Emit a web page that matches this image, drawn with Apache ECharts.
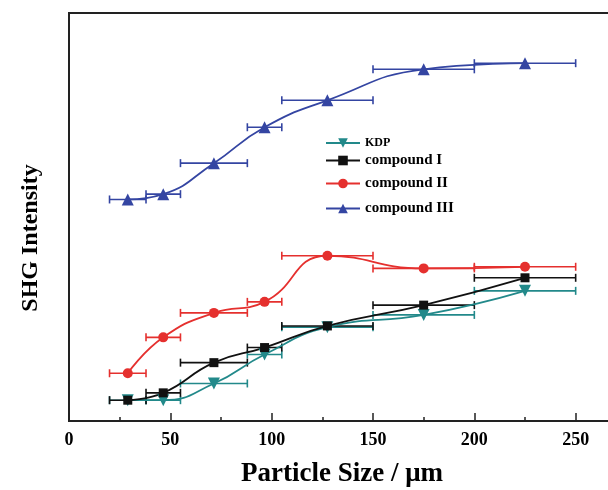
<!DOCTYPE html>
<html>
<head>
<meta charset="utf-8">
<script src="https://cdn.jsdelivr.net/npm/echarts@6/dist/echarts.min.js"></script>
<style>
  html, body { margin: 0; padding: 0; background: #fff; }
  #chart { width: 608px; height: 490px; }
</style>
</head>
<body>
<div id="chart"></div>
<script>
// Particle size classes (µm): centre and sieve range
const particleSize = [29, 46.5, 71.5, 96.5, 127.5, 175, 225];
const sizeLow = [20, 38, 55, 88, 105, 150, 200];
const sizeHigh = [38, 55, 88, 105, 150, 200, 250];

// SHG intensity (arbitrary units)
const kdp = [5.1, 5.1, 9.2, 16.3, 23.0, 26.0, 31.9];
const compoundI = [5.1, 6.9, 14.3, 18.0, 23.3, 28.4, 35.1];
const compoundII = [11.7, 20.5, 26.5, 29.2, 40.5, 37.4, 37.8];
const compoundIII = [54.3, 55.6, 63.2, 72.0, 78.6, 86.2, 87.7];

const xTicks = [0, 50, 100, 150, 200, 250];

const serif = '"Liberation Serif", "DejaVu Serif", serif';

const seriesDefs = [
  { name: 'KDP', values: kdp, color: '#22898a', symbol: 'triangle', rotate: 180, size: 12 },
  { name: 'compound I', values: compoundI, color: '#111111', symbol: 'rect', rotate: 0, size: 9 },
  { name: 'compound II', values: compoundII, color: '#e5302e', symbol: 'circle', rotate: 0, size: 10 },
  { name: 'compound III', values: compoundIII, color: '#3445a2', symbol: 'triangle', rotate: 0, size: 12 }
];

function errorBarItem(params, api) {
  const lo = api.coord([api.value(0), api.value(2)]);
  const hi = api.coord([api.value(1), api.value(2)]);
  const cap = 4;
  const style = { stroke: api.visual('color'), lineWidth: 1.6, fill: null };
  return {
    type: 'group',
    children: [
      { type: 'line', shape: { x1: lo[0], y1: lo[1], x2: hi[0], y2: hi[1] }, style: style },
      { type: 'line', shape: { x1: lo[0], y1: lo[1] - cap, x2: lo[0], y2: lo[1] + cap }, style: style },
      { type: 'line', shape: { x1: hi[0], y1: hi[1] - cap, x2: hi[0], y2: hi[1] + cap }, style: style }
    ]
  };
}

const series = [];
seriesDefs.forEach(function (d) {
  series.push({
    name: d.name + ' range',
    type: 'custom',
    renderItem: errorBarItem,
    itemStyle: { color: d.color },
    data: d.values.map(function (v, i) { return [sizeLow[i], sizeHigh[i], v]; }),
    encode: { x: [0, 1], y: 2 },
    z: 2,
    silent: true
  });
  series.push({
    name: d.name,
    type: 'line',
    smooth: 0.5,
    data: d.values.map(function (v, i) { return [particleSize[i], v]; }),
    symbol: d.symbol,
    symbolRotate: d.rotate,
    symbolSize: d.size,
    lineStyle: { color: d.color, width: 1.8 },
    itemStyle: { color: d.color },
    z: 3
  });
});

const legendTops = [137, 153, 176, 201];
const legendSizes = [12, 15, 15, 15];
const legends = seriesDefs.map(function (d, i) {
  return {
    data: [d.name],
    left: 325,
    top: legendTops[i],
    padding: 0,
    itemWidth: 34,
    itemHeight: 12,
    itemGap: 4,
    textStyle: { fontFamily: serif, fontWeight: 'bold', fontSize: legendSizes[i], color: '#000' }
  };
});

const chart = echarts.init(document.getElementById('chart'), null, { renderer: 'canvas' });
chart.setOption({
  animation: false,
  backgroundColor: '#fff',
  grid: {
    left: 69, top: 13, width: 608, height: 408,
    outerBoundsMode: 'none',
    containLabel: false,
    show: true, borderColor: '#222', borderWidth: 2, backgroundColor: 'transparent'
  },
  legend: legends,
  xAxis: {
    type: 'value',
    min: 0, max: 300, interval: 50,
    axisLine: { show: true, lineStyle: { color: '#222', width: 2 } },
    axisTick: { show: true, inside: true, length: 8, lineStyle: { color: '#222', width: 1.5 } },
    minorTick: { show: true, splitNumber: 2, length: 4, lineStyle: { color: '#222', width: 1.5 } },
    splitLine: { show: false },
    axisLabel: {
      margin: 10,
      fontFamily: serif, fontWeight: 'bold', fontSize: 18, color: '#000',
      formatter: function (v) { return xTicks.indexOf(v) >= 0 ? String(v) : ''; }
    }
  },
  yAxis: {
    type: 'value',
    min: 0, max: 100,
    axisLine: { show: true, lineStyle: { color: '#222', width: 2 } },
    axisTick: { show: false },
    axisLabel: { show: false },
    splitLine: { show: false }
  },
  graphic: [
    {
      type: 'text', x: 342, y: 474,
      style: { text: 'Particle Size / μm', font: 'bold 27px ' + serif, fill: '#000', align: 'center', verticalAlign: 'middle' }
    },
    {
      type: 'text', x: 31, y: 238, rotation: Math.PI / 2,
      style: { text: 'SHG Intensity', font: 'bold 24px ' + serif, fill: '#000', align: 'center', verticalAlign: 'middle' }
    }
  ],
  series: series
});
</script>
</body>
</html>
